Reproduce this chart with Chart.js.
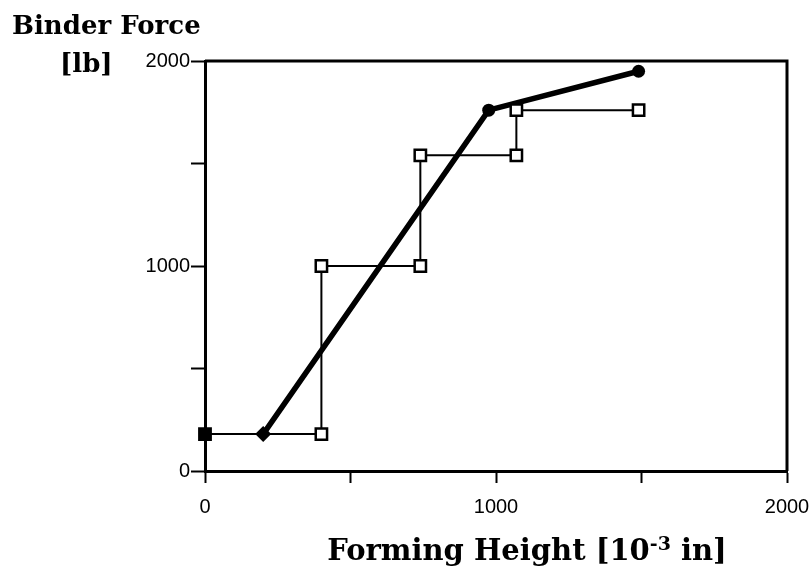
<!DOCTYPE html>
<html>
<head>
<meta charset="utf-8">
<script src="https://cdn.jsdelivr.net/npm/chart.js@4/dist/chart.umd.min.js"></script>
<style>
  body { margin: 0; background: #fff; }
  #wrap { position: relative; width: 809px; height: 569px; }
  .ttl { position: absolute; font-family: "DejaVu Serif", serif; font-weight: bold; color: #000; white-space: nowrap; }
  #yt1 { left: 12px; top: 10px; font-size: 26px; }
  #yt2 { left: 60px; top: 48px; font-size: 26px; }
  #xt { left: 0; width: 1054px; text-align: center; top: 533px; font-size: 29px; }
  #xt sup { font-size: 19px; vertical-align: 10px; line-height: 0; }
</style>
</head>
<body>
<div id="wrap">
  <canvas id="myChart" width="809" height="569"></canvas>
  <div class="ttl" id="yt1">Binder Force</div>
  <div class="ttl" id="yt2">[lb]</div>
  <div class="ttl" id="xt">Forming Height [10<sup>-3</sup> in]</div>
</div>
<script>
// stepped binder force schedule
const stepHeight = [0, 400, 400, 740, 740, 1070, 1070, 1490];
const stepForce = [180, 180, 1000, 1000, 1540, 1540, 1760, 1760];

// linear ramp schedule
const rampHeight = [200, 975, 1490];
const rampForce = [180, 1760, 1950];

const axisTicks = [0, 1000, 2000];

const toPoints = (xs, ys) => xs.map((x, i) => ({ x: x, y: ys[i] }));

// top and right edges of the plot box
const frame = {
  id: 'frame',
  afterDraw(chart) {
    const a = chart.chartArea;
    const c = chart.ctx;
    c.save();
    c.strokeStyle = '#000';
    c.lineWidth = 3;
    c.beginPath();
    c.moveTo(a.left, a.top);
    c.lineTo(a.right, a.top);
    c.lineTo(a.right, a.bottom);
    c.stroke();
    c.restore();
  }
};

const ctx = document.getElementById('myChart');

new Chart(ctx, {
  type: 'scatter',
  data: {
    datasets: [{
      data: toPoints(stepHeight, stepForce),
      showLine: true,
      clip: false,
      borderColor: '#000',
      borderWidth: 2,
      pointStyle: 'rect',
      pointRadius: 8,
      pointBorderWidth: 2.5,
      pointBorderColor: '#000',
      pointBackgroundColor: stepHeight.map((v, i) => i === 0 ? '#000' : '#fff'),
    }, {
      data: toPoints(rampHeight, rampForce),
      showLine: true,
      clip: false,
      borderColor: '#000',
      borderWidth: 5.5,
      pointStyle: ['rectRot', 'circle', 'circle'],
      pointRadius: [8, 6.5, 6.5],
      pointBorderWidth: 0,
      pointBackgroundColor: '#000',
    }]
  },
  options: {
    responsive: false,
    animation: false,
    layout: { padding: { top: 61, right: 22, left: 0, bottom: 0 } },
    plugins: {
      legend: { display: false },
      tooltip: { enabled: false }
    },
    scales: {
      x: {
        type: 'linear',
        min: 0,
        max: 2000,
        afterFit(scale) {
          scale.height = 98;
          scale.paddingLeft = 0;
          scale.paddingRight = 0;
        },
        border: { color: '#000', width: 3 },
        grid: { drawOnChartArea: false, tickLength: 12, color: '#000', tickWidth: 2 },
        ticks: {
          stepSize: 500,
          padding: 12,
          color: '#000',
          font: { family: 'Liberation Sans', size: 20 },
          callback: v => axisTicks.includes(v) ? String(v) : ''
        }
      },
      y: {
        type: 'linear',
        min: 0,
        max: 2000,
        afterFit(scale) {
          scale.width = 205;
          scale.paddingTop = 0;
          scale.paddingBottom = 0;
        },
        border: { color: '#000', width: 3 },
        grid: { drawOnChartArea: false, tickLength: 14, color: '#000', tickWidth: 2 },
        ticks: {
          stepSize: 500,
          padding: 1,
          color: '#000',
          font: { family: 'Liberation Sans', size: 20 },
          callback: v => axisTicks.includes(v) ? String(v) : ''
        }
      }
    }
  },
  plugins: [frame]
});
</script>
</body>
</html>
